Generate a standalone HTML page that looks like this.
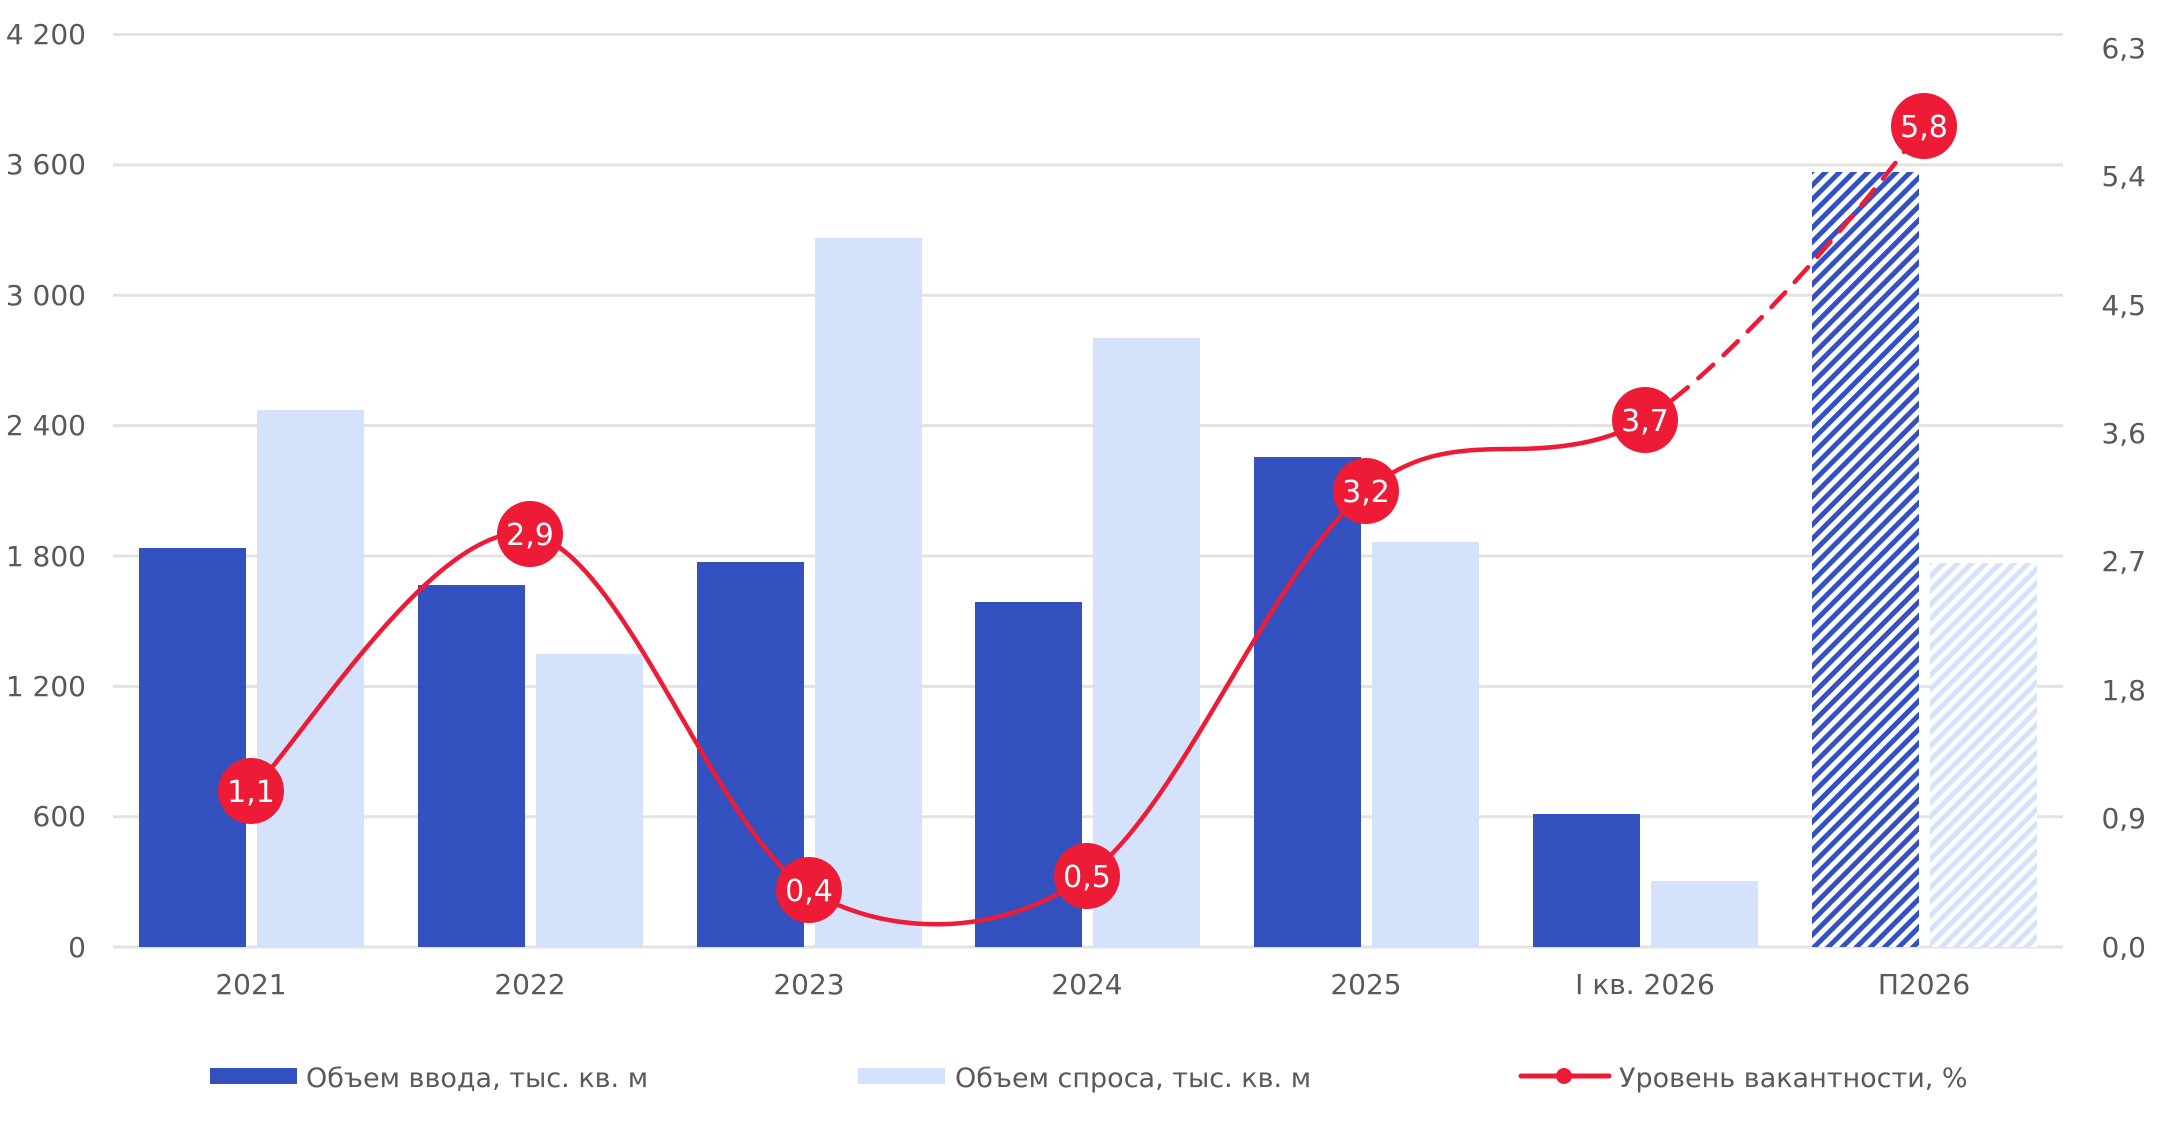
<!DOCTYPE html>
<html><head><meta charset="utf-8"><style>
html,body{margin:0;padding:0;background:#fff;}
svg{display:block;}
text{font-family:"DejaVu Sans","Liberation Sans",sans-serif;fill:#595959;}
</style></head><body>
<svg width="2164" height="1138" viewBox="0 0 2164 1138" xmlns="http://www.w3.org/2000/svg">
<defs>
<pattern id="hd" patternUnits="userSpaceOnUse" width="10" height="10" patternTransform="rotate(45)">
<rect width="10" height="10" fill="#fff"/><rect width="5" height="10" fill="#3351bf"/>
</pattern>
<pattern id="hl" patternUnits="userSpaceOnUse" width="10" height="10" patternTransform="rotate(45)">
<rect width="10" height="10" fill="#fff"/><rect width="5" height="10" fill="#d4e2fc"/>
</pattern>
</defs>
<g stroke="#e3e3e3" stroke-width="3">
<line x1="113" x2="2063" y1="34.5" y2="34.5"/>
<line x1="113" x2="2063" y1="164.9" y2="164.9"/>
<line x1="113" x2="2063" y1="295.3" y2="295.3"/>
<line x1="113" x2="2063" y1="425.6" y2="425.6"/>
<line x1="113" x2="2063" y1="556" y2="556"/>
<line x1="113" x2="2063" y1="686.4" y2="686.4"/>
<line x1="113" x2="2063" y1="816.7" y2="816.7"/>
<line x1="113" x2="2063" y1="947" y2="947"/>
</g>
<g font-size="28" text-anchor="end">
<text x="86" y="44">4 200</text>
<text x="86" y="174">3 600</text>
<text x="86" y="305">3 000</text>
<text x="86" y="435">2 400</text>
<text x="86" y="566">1 800</text>
<text x="86" y="696">1 200</text>
<text x="86" y="826">600</text>
<text x="86" y="957">0</text>
</g>
<g font-size="28" text-anchor="end">
<text x="2146" y="58">6,3</text>
<text x="2146" y="186">5,4</text>
<text x="2146" y="315">4,5</text>
<text x="2146" y="443">3,6</text>
<text x="2146" y="571">2,7</text>
<text x="2146" y="700">1,8</text>
<text x="2146" y="828">0,9</text>
<text x="2146" y="957">0,0</text>
</g>
<g fill="#3351bf">
<rect x="139" y="548" width="107" height="399"/>
<rect x="418" y="585" width="107" height="362"/>
<rect x="697" y="562" width="107" height="385"/>
<rect x="975" y="602" width="107" height="345"/>
<rect x="1254" y="457" width="107" height="490"/>
<rect x="1533" y="814" width="107" height="133"/>
</g>
<rect x="1812" y="172" width="107" height="775" fill="url(#hd)"/>
<g fill="#d4e2fc">
<rect x="257" y="410" width="107" height="537"/>
<rect x="536" y="654" width="107" height="293"/>
<rect x="815" y="238" width="107" height="709"/>
<rect x="1093" y="338" width="107" height="609"/>
<rect x="1372" y="542" width="107" height="405"/>
<rect x="1651" y="881" width="107" height="66"/>
</g>
<rect x="1930" y="563" width="107" height="384" fill="url(#hl)"/>
<g fill="none" stroke="#ed1b36" stroke-width="4.5" stroke-linecap="round">
<path d="M251 791 C297 748 437 517 530 534 C623 550 716 833 809 890 C880 934 994 942 1087 876 C1180 809 1273 567 1366 491 C1410 455 1450 449 1510 449 C1570 449 1610 440 1645 420"/>
<path d="M1645 420 C1720 370 1830 250 1924 126" stroke-dasharray="20 14"/>
</g>
<g fill="#ed1b36">
<circle cx="251" cy="791" r="33"/>
<circle cx="530" cy="534" r="33"/>
<circle cx="809" cy="890" r="33"/>
<circle cx="1087" cy="876" r="33"/>
<circle cx="1366" cy="491" r="33"/>
<circle cx="1645" cy="420" r="33"/>
<circle cx="1924" cy="126" r="33"/>
</g>
<g font-size="30" text-anchor="middle">
<text x="251" y="802" style="fill:#fff">1,1</text>
<text x="530" y="545" style="fill:#fff">2,9</text>
<text x="809" y="901" style="fill:#fff">0,4</text>
<text x="1087" y="887" style="fill:#fff">0,5</text>
<text x="1366" y="502" style="fill:#fff">3,2</text>
<text x="1645" y="431" style="fill:#fff">3,7</text>
<text x="1924" y="137" style="fill:#fff">5,8</text>
</g>
<g font-size="28" text-anchor="middle">
<text x="251" y="994">2021</text>
<text x="530" y="994">2022</text>
<text x="809" y="994">2023</text>
<text x="1087" y="994">2024</text>
<text x="1366" y="994">2025</text>
<text x="1645" y="994">I кв. 2026</text>
<text x="1924" y="994">П2026</text>
</g>
<rect x="210" y="1068" width="87" height="16" fill="#3351bf"/>
<text x="306" y="1087" font-size="27">Объем ввода, тыс. кв. м</text>
<rect x="858" y="1068" width="87" height="16" fill="#d4e2fc"/>
<text x="955" y="1087" font-size="27">Объем спроса, тыс. кв. м</text>
<line x1="1521" x2="1609" y1="1076" y2="1076" stroke="#ed1b36" stroke-width="5" stroke-linecap="round"/>
<circle cx="1564" cy="1076" r="8" fill="#ed1b36"/>
<text x="1619" y="1087" font-size="27">Уровень вакантности, %</text>
</svg>
</body></html>
